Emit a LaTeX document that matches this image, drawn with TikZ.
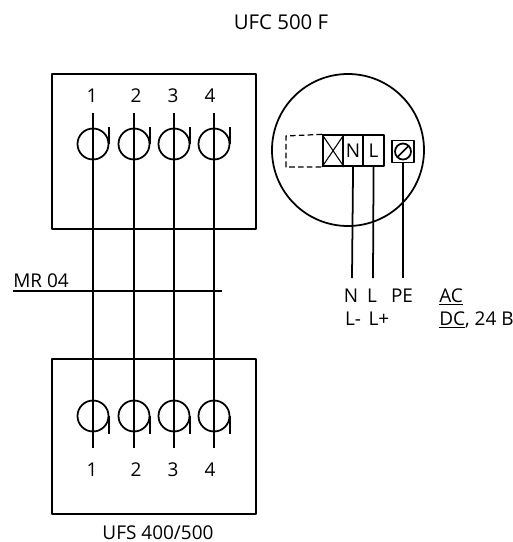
\documentclass[tikz,border=0pt]{standalone}
\usepackage{fontspec}
\setmainfont{Open Sans}
\tikzset{
	wire/.style={line width=1pt},
	thin wire/.style={line width=0.6pt},
	klemme/.style={draw,line width=1pt,minimum width=11.6pt,minimum height=17.6pt,inner sep=0pt,anchor=south west},
	lbl/.style={inner sep=0pt,anchor=base}
}
\begin{document}
\begin{tikzpicture}[x=0.02cm,y=-0.02cm,font=\fontsize{10.8pt}{12pt}\selectfont, line join=round, line cap=butt]
	\useasboundingbox (0,0) rectangle (513,542);
	% titles
	\node[lbl,font=\fontsize{11.6pt}{13pt}\selectfont] (title) at (281,29) {UFC 500 F};
	\node[lbl] (ufs) at (158,539) {UFS 400/500};
	% boxes
	\draw[wire] (52,74) rectangle (256,229);
	\draw[wire] (52,359) rectangle (256,514);
	% current transformers
	\foreach \n/\x/\t in {1/93/92,2/134/136,3/174/173,4/214/210}{
		\coordinate (top\n) at (\x,113);
		\coordinate (bot\n) at (\x,448);
		\draw[wire] (top\n)--(bot\n);
		\draw[wire] (\x,144) circle (15.5);
		\draw[wire] (\x+16,127)--(\x+16,144);
		\draw[wire] (\x,416) circle (15.5);
		\draw[wire] (\x+16,416)--(\x+16,434);
		\node[lbl] (numtop\n) at (\t,102) {\n};
		\node[lbl] (numbot\n) at (\t,476) {\n};
	}
	% cable
	\coordinate (mra) at (13,291);
	\coordinate (mrb) at (222,291);
	\draw[thin wire] (mra)--(mrb);
	\node[lbl,anchor=base west] (mr) at (13,287) {MR 04};
	% detail
	\draw[wire] (348,150) circle (76);
	\node[klemme] (kx) at (322,167) {};
	\node[klemme] (kn) at (342,167) {N};
	\node[klemme] (kl) at (362.5,167) {L};
	\draw[thin wire] (kx.north west)--(kx.south east) (kx.south west)--(kx.north east);
	\draw[line width=0.7pt,dash pattern=on 3.2pt off 1.8pt] (kx.north west)--(286,136)--(286,167)--(kx.south west);
	\node[draw,line width=1pt,minimum size=12.4pt,inner sep=0pt] (pe) at (403,151.5) {};
	\draw[wire] (pe.center) circle (8);
	\draw[wire] (397.5,157)--(408.5,146);
	% leads
	\coordinate (en) at (352,278);
	\coordinate (el) at (373,278);
	\coordinate (ep) at (403,278);
	\draw[wire] (kn.south)--(en);
	\draw[wire] (kl.south)--(el);
	\draw[wire] (pe.south)--(ep);
	\node[lbl] (ln) at (351,302) {N};
	\node[lbl] (ll) at (372,302) {L};
	\node[lbl] (lp) at (402,302) {PE};
	\node[lbl] (lm) at (353,325) {L-};
	\node[lbl] (lpl) at (379,325) {L+};
	\node[lbl,anchor=base west] (ac) at (439,302) {\underline{AC}};
	\node[lbl,anchor=base west] (dc) at (439,325) {\underline{DC}, 24 B};
\end{tikzpicture}
\end{document}
